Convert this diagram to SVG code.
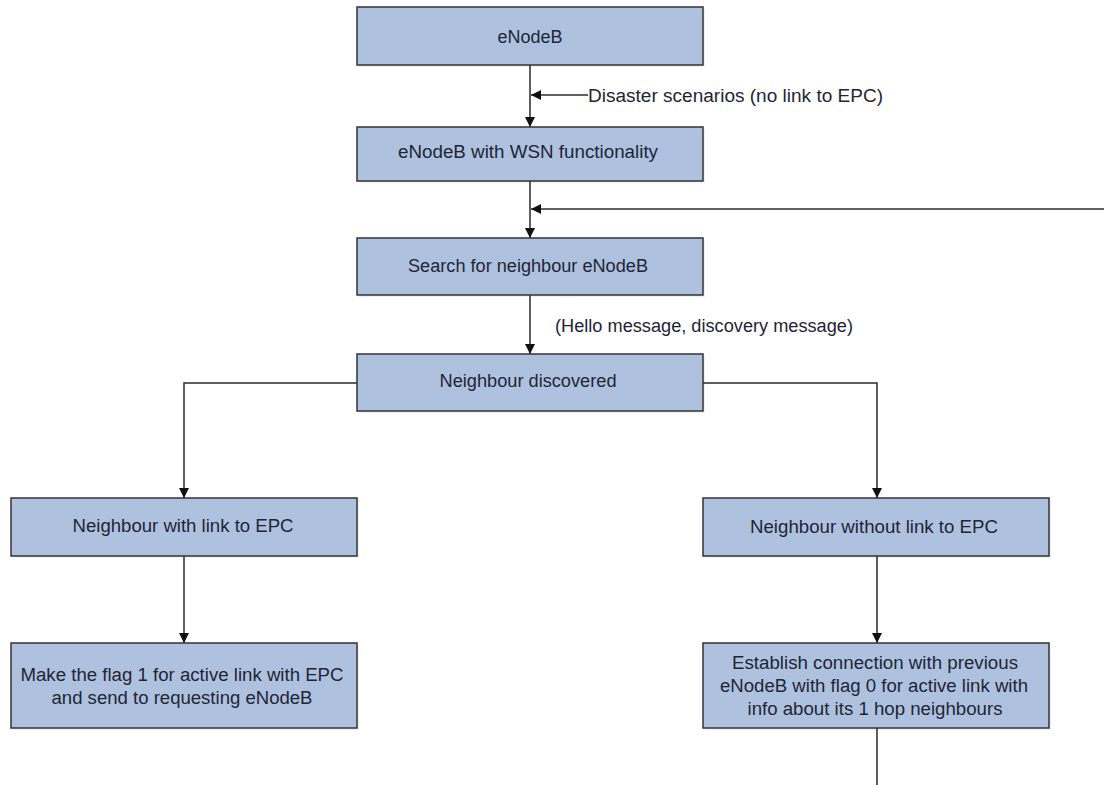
<svg xmlns="http://www.w3.org/2000/svg" width="1104" height="785" viewBox="0 0 1104 785">
  <style>
    .box { fill: #aec2e0; stroke: #333333; stroke-width: 1.5; }
    .shadow { fill: #000000; opacity: 0.06; }
    .lbl { font-family: "Liberation Sans", Arial, sans-serif; font-size: 18px; fill: #1f2535; text-anchor: middle; }
    .note { font-family: "Liberation Sans", Arial, sans-serif; font-size: 18px; fill: #1f2535; }
    .wire { fill: none; stroke: #2b2b2b; stroke-width: 1.5; }
  </style>
  <defs>
    <marker id="arrow" viewBox="0 0 10 10" refX="10" refY="5" markerWidth="10" markerHeight="10" markerUnits="userSpaceOnUse" orient="auto">
      <path d="M0,0 L10,5 L0,10 Z" fill="#111111"/>
    </marker>
  </defs>
  <rect width="1104" height="785" fill="#ffffff"/>

  <g id="connectors">
    <line class="wire" x1="530" y1="65" x2="530" y2="127" marker-end="url(#arrow)"/>
    <line class="wire" x1="588" y1="95" x2="531" y2="95" marker-end="url(#arrow)"/>
    <line class="wire" x1="530" y1="181" x2="530" y2="238" marker-end="url(#arrow)"/>
    <line class="wire" x1="1104" y1="209" x2="531" y2="209" marker-end="url(#arrow)"/>
    <line class="wire" x1="530" y1="295" x2="530" y2="354" marker-end="url(#arrow)"/>
    <polyline class="wire" points="357,383 184,383 184,498" marker-end="url(#arrow)"/>
    <polyline class="wire" points="703,383 877,383 877,498" marker-end="url(#arrow)"/>
    <line class="wire" x1="184" y1="556" x2="184" y2="643" marker-end="url(#arrow)"/>
    <line class="wire" x1="877" y1="556" x2="877" y2="643" marker-end="url(#arrow)"/>
    <line class="wire" x1="877" y1="728" x2="877" y2="785"/>
    <text class="note" x="588" y="102" textLength="295" lengthAdjust="spacingAndGlyphs">Disaster scenarios (no link to EPC)</text>
    <text class="note" x="555" y="332" textLength="298" lengthAdjust="spacingAndGlyphs">(Hello message, discovery message)</text>
  </g>

  <g id="enodeb">
    <rect class="shadow" x="359" y="9" width="346" height="58"/>
    <rect class="box" x="357" y="7" width="346" height="58"/>
    <text class="lbl" x="530" y="43" textLength="65" lengthAdjust="spacingAndGlyphs">eNodeB</text>
  </g>

  <g id="enodeb-wsn">
    <rect class="shadow" x="359" y="129" width="346" height="54"/>
    <rect class="box" x="357" y="127" width="346" height="54"/>
    <text class="lbl" x="528" y="158" textLength="260" lengthAdjust="spacingAndGlyphs">eNodeB with WSN functionality</text>
  </g>

  <g id="search">
    <rect class="shadow" x="359" y="240" width="346" height="57"/>
    <rect class="box" x="357" y="238" width="346" height="57"/>
    <text class="lbl" x="528" y="272" textLength="240" lengthAdjust="spacingAndGlyphs">Search for neighbour eNodeB</text>
  </g>

  <g id="discovered">
    <rect class="shadow" x="359" y="356" width="346" height="57"/>
    <rect class="box" x="357" y="354" width="346" height="57"/>
    <text class="lbl" x="528" y="387" textLength="177" lengthAdjust="spacingAndGlyphs">Neighbour discovered</text>
  </g>

  <g id="with-link">
    <rect class="shadow" x="13" y="500" width="346" height="58"/>
    <rect class="box" x="11" y="498" width="346" height="58"/>
    <text class="lbl" x="183" y="532" textLength="221" lengthAdjust="spacingAndGlyphs">Neighbour with link to EPC</text>
  </g>

  <g id="without-link">
    <rect class="shadow" x="705" y="500" width="346" height="58"/>
    <rect class="box" x="703" y="498" width="346" height="58"/>
    <text class="lbl" x="874" y="533" textLength="248" lengthAdjust="spacingAndGlyphs">Neighbour without link to EPC</text>
  </g>

  <g id="flag-one">
    <rect class="shadow" x="13" y="645" width="346" height="85"/>
    <rect class="box" x="11" y="643" width="346" height="85"/>
    <text class="lbl" x="182" y="681" textLength="323" lengthAdjust="spacingAndGlyphs">Make the flag 1 for active link with EPC</text>
    <text class="lbl" x="182" y="704" textLength="261" lengthAdjust="spacingAndGlyphs">and send to requesting eNodeB</text>
  </g>

  <g id="flag-zero">
    <rect class="shadow" x="705" y="645" width="346" height="85"/>
    <rect class="box" x="703" y="643" width="346" height="85"/>
    <text class="lbl" x="875" y="669" textLength="286" lengthAdjust="spacingAndGlyphs">Establish connection with previous</text>
    <text class="lbl" x="874" y="692" textLength="308" lengthAdjust="spacingAndGlyphs">eNodeB with flag 0 for active link with</text>
    <text class="lbl" x="875" y="715" textLength="255" lengthAdjust="spacingAndGlyphs">info about its 1 hop neighbours</text>
  </g>
</svg>
